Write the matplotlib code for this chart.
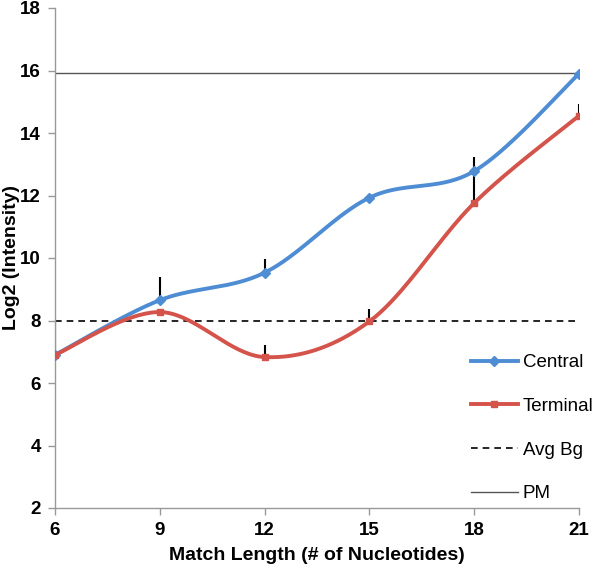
import numpy as np
import matplotlib
matplotlib.use("Agg")
import matplotlib.pyplot as plt
from matplotlib.lines import Line2D

match_length = [6, 9, 12, 15, 18, 21]
central = [6.9, 8.65, 9.53, 11.93, 12.78, 15.9]
terminal = [6.9, 8.27, 6.83, 7.97, 11.76, 14.55]
central_err = [1.15, 0.75, 0.45, 0.0, 0.45, 0.0]
terminal_err = [0.0, 0.0, 0.4, 0.4, 1.0, 0.38]
avg_bg = 8.0
pm = 15.92
x_ticks = [6, 9, 12, 15, 18, 21]
y_ticks = [2, 4, 6, 8, 10, 12, 14, 16, 18]

plt.rcParams['font.family'] = ['Liberation Sans', 'DejaVu Sans']


def catmull_rom(xs, ys, n=40):
    P = np.column_stack([xs, ys]).astype(float)
    P = np.vstack([P[0], P, P[-1]])
    out = []
    for i in range(1, len(P) - 2):
        p0, p1, p2, p3 = P[i - 1], P[i], P[i + 1], P[i + 2]
        t = np.linspace(0, 1, n)[:, None]
        seg = 0.5 * ((2 * p1) + (-p0 + p2) * t + (2 * p0 - 5 * p1 + 4 * p2 - p3) * t ** 2
                     + (-p0 + 3 * p1 - 3 * p2 + p3) * t ** 3)
        out.append(seg if i == 1 else seg[1:])
    out = np.vstack(out)
    return out[:, 0], out[:, 1]


fig = plt.figure(figsize=(6.0, 5.69), dpi=100)
ax = fig.add_axes([55 / 600, 1 - 508 / 569, (579 - 55) / 600, (508 - 8) / 569])

blue = '#4E8DD3'
red = '#D4534B'

# error bars (upward only)
ax.vlines(match_length, central, np.array(central) + np.array(central_err), color='black', lw=1.5, zorder=2)
ax.vlines(match_length, terminal, np.array(terminal) + np.array(terminal_err), color='black', lw=1.5, zorder=2)

ax.axhline(avg_bg, color='black', lw=1.2, ls=(0, (4, 3)), zorder=1)
ax.axhline(pm, color='#555555', lw=1.0, zorder=1)

cx, cy = catmull_rom(match_length, central)
tx, ty = catmull_rom(match_length, terminal)
ax.plot(cx, cy, color=blue, lw=2.8, zorder=3, solid_capstyle='round')
ax.plot(match_length, central, ls='none', marker='D', ms=5.5, color=blue, zorder=4)
ax.plot(tx, ty, color=red, lw=2.8, zorder=5, solid_capstyle='round')
ax.plot(match_length, terminal, ls='none', marker='s', ms=5, color=red, zorder=6)

ax.set_xlim(6, 21)
ax.set_ylim(2, 18)
ax.set_xticks(x_ticks)
ax.set_yticks(y_ticks)
ax.spines['top'].set_visible(False)
ax.spines['right'].set_visible(False)
for s in ['left', 'bottom']:
    ax.spines[s].set_color('#999999')
    ax.spines[s].set_linewidth(1.0)
ax.tick_params(axis='both', direction='out', length=5, color='#999999', width=1.0,
               labelsize=13.5, pad=5)
for lbl in ax.get_xticklabels() + ax.get_yticklabels():
    lbl.set_fontweight('bold')
ax.set_xlabel('Match Length (# of Nucleotides)', fontsize=14, fontweight='bold', labelpad=6)
ax.set_ylabel('Log2 (Intensity)', fontsize=14, fontweight='bold')
ax.yaxis.set_label_coords((20 - 55) / 524, 0.5)

handles = [
    Line2D([], [], color=blue, lw=2.8, marker='D', ms=5),
    Line2D([], [], color=red, lw=2.8, marker='s', ms=4.5),
    Line2D([], [], color='black', lw=1.2, ls=(0, (4, 3))),
    Line2D([], [], color='#555555', lw=1.0),
]
fig.legend(handles, ['Central', 'Terminal', 'Avg Bg', 'PM'], loc='upper left',
           bbox_to_anchor=(471 / 600, 1 - 354 / 569), frameon=False, fontsize=13.5,
           handlelength=2.5, handletextpad=0.25, labelspacing=1.42, borderpad=0,
           borderaxespad=0, numpoints=1)

fig.savefig('out.png', dpi=100)
